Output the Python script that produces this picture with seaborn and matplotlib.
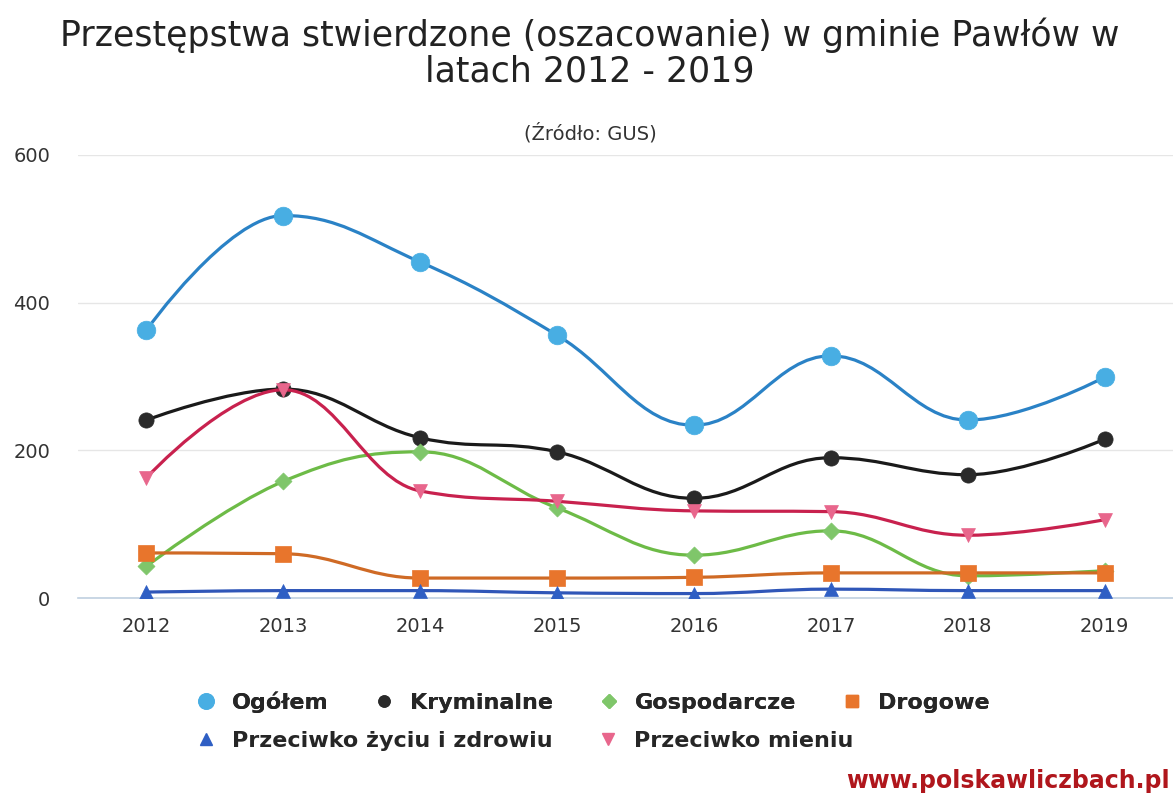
import numpy as np
import pandas as pd
import seaborn as sns
import matplotlib.pyplot as plt
from matplotlib.path import Path
from matplotlib.patches import PathPatch
from matplotlib.lines import Line2D

years = [2012, 2013, 2014, 2015, 2016, 2017, 2018, 2019]
ogolem = [363, 518, 455, 356, 234, 328, 241, 299]
kryminalne = [241, 283, 217, 198, 135, 190, 167, 215]
gospodarcze = [43, 158, 198, 122, 58, 91, 30, 37]
drogowe = [61, 60, 27, 27, 28, 34, 34, 34]
zycie = [8, 10, 10, 7, 6, 12, 10, 10]
mienie = [163, 282, 145, 131, 118, 117, 85, 106]

names = ["Ogółem", "Kryminalne", "Gospodarcze", "Drogowe",
         "Przeciwko życiu i zdrowiu", "Przeciwko mieniu"]
series = [ogolem, kryminalne, gospodarcze, drogowe, zycie, mienie]
line_colors = ["#2a82c6", "#1a1a1a", "#6dbb47", "#cf6a25", "#2f56b8", "#c8214e"]
marker_colors = ["#48aee3", "#2a2a2a", "#7fc66a", "#e8752c", "#2f5fc4", "#e8668c"]
markers = ["o", "o", "D", "s", "^", "v"]
sizes = [180, 120, 75, 140, 100, 100]


def spline_path(xs, ys, smoothing=1.5):
    # highcharts-like spline through the points
    denom = smoothing + 1
    verts = [(xs[0], ys[0])]
    codes = [Path.MOVETO]
    right_prev = (xs[0], ys[0])
    for i in range(1, len(xs)):
        x, y = xs[i], ys[i]
        lx, ly, rx, ry = x, y, x, y
        if i < len(xs) - 1:
            px, py = xs[i - 1], ys[i - 1]
            nx, ny = xs[i + 1], ys[i + 1]
            lx = (smoothing * x + px) / denom
            ly = (smoothing * y + py) / denom
            rx = (smoothing * x + nx) / denom
            ry = (smoothing * y + ny) / denom
            if rx != lx:
                corr = (ry - ly) * (rx - x) / (rx - lx) + y - ry
                ly += corr
                ry += corr
            if ly > max(py, y):
                ly = max(py, y); ry = 2 * y - ly
            elif ly < min(py, y):
                ly = min(py, y); ry = 2 * y - ly
            if ry > max(ny, y):
                ry = max(ny, y); ly = 2 * y - ry
            elif ry < min(ny, y):
                ry = min(ny, y); ly = 2 * y - ry
        verts += [right_prev, (lx, ly), (x, y)]
        codes += [Path.CURVE4] * 3
        right_prev = (rx, ry)
    return Path(verts, codes)


sns.set_theme(style="white")
plt.rcParams['font.family'] = ['DejaVu Sans']

fig = plt.figure(figsize=(11.73, 7.96), dpi=100)
ax = fig.add_axes([78 / 1173, 1 - 598 / 796, 1 - 78 / 1173, (598 - 155) / 796])

df = pd.DataFrame({"rok": years})
for i, (name, vals) in enumerate(zip(names, series)):
    df[name] = vals
    z = 3 + i
    ax.add_patch(PathPatch(spline_path(years, vals), facecolor="none",
                           edgecolor=line_colors[i], lw=2.3, zorder=z))
    sns.scatterplot(data=df, x="rok", y=name, marker=markers[i], s=sizes[i],
                    color=marker_colors[i], edgecolor=marker_colors[i],
                    linewidth=0.5, zorder=z + 0.5, ax=ax, legend=False)

ax.set_xlim(2011.5, 2019.5)
ax.set_ylim(0, 600)
ax.set_xticks(years)
ax.set_xticklabels([str(y) for y in years], fontsize=14, color="#333333")
ax.set_xticks(np.arange(2011.5, 2020, 1), minor=True)
ax.tick_params(axis="x", which="major", length=0, pad=14)
ax.tick_params(axis="x", which="minor", length=8, width=1, color="#c0d0e0")
ax.set_yticks([0, 200, 400, 600])
ax.tick_params(axis="y", length=0, pad=20, labelsize=14, labelcolor="#333333")
ax.set_xlabel("")
ax.set_ylabel("")
ax.grid(axis="y", color="#e6e6e6", lw=1)
ax.grid(axis="x", visible=False)
for s in ["top", "right", "left"]:
    ax.spines[s].set_visible(False)
ax.spines["bottom"].set_color("#c0d0e0")
ax.spines["bottom"].set_linewidth(1.2)
ax.set_axisbelow(True)

fig.text(0.503, 1 - 35 / 796, "Przestępstwa stwierdzone (oszacowanie) w gminie Pawłów w",
         ha="center", va="center", fontsize=25, color="#222222")
fig.text(0.503, 1 - 72 / 796, "latach 2012 - 2019",
         ha="center", va="center", fontsize=25, color="#222222")
fig.text(0.503, 1 - 133 / 796, "(Źródło: GUS)",
         ha="center", va="center", fontsize=14, color="#333333")

handles = [Line2D([], [], ls="none", marker=markers[i], color=marker_colors[i],
                  markersize=[11, 8, 7, 9, 8, 8][i]) for i in range(6)]
leg_font = {"size": 16, "weight": "bold"}
leg_kw = dict(loc="center left", frameon=False, prop=leg_font,
              handletextpad=0.67, columnspacing=2.0, handlelength=1.0)
leg1 = fig.legend(handles[:4], names[:4], ncol=4,
                  bbox_to_anchor=(175 / 1173, 1 - 702 / 796), **leg_kw)
fig.legend(handles[4:], names[4:], ncol=2,
           bbox_to_anchor=(175 / 1173, 1 - 741 / 796), **leg_kw)
fig.add_artist(leg1)

fig.text(0.997, 1 - 781 / 796, "www.polskawliczbach.pl", ha="right", va="center",
         fontsize=17, fontweight="bold", color="#b0161c")

fig.savefig("out.png", dpi=100)
